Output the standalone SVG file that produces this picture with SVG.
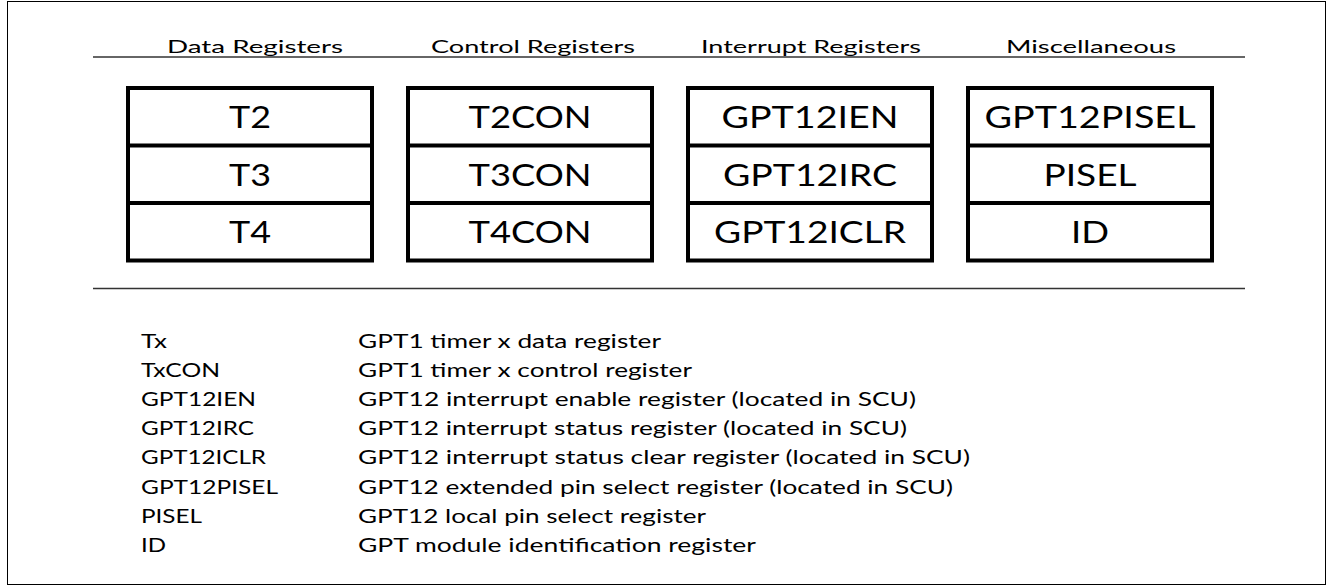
<svg xmlns="http://www.w3.org/2000/svg" width="1332" height="587" viewBox="0 0 1332 587">
<style>
text{font-family:Lato,"Open Sans","Liberation Sans",sans-serif;fill:#000}
.hd{font-size:18px;text-anchor:middle}
.rg{font-size:31px;text-anchor:middle}
.lg{font-size:18.5px}
.box{fill:#fff;stroke:#000;stroke-width:4}
.div{stroke:#000;stroke-width:4}
.rule{stroke:#333;stroke-width:1.5}
</style>
<rect x="7.5" y="1.5" width="1318" height="583" fill="#fff" stroke="#000" stroke-width="1"/>
<g id="rules">
<line class="rule" x1="93" y1="57" x2="1245" y2="57"/>
<line class="rule" x1="93" y1="288.5" x2="1245" y2="288.5"/>
</g>
<g id="headers">
<text class="hd" x="255" y="52.5" textLength="176" lengthAdjust="spacingAndGlyphs">Data Registers</text>
<text class="hd" x="533" y="52.5" textLength="204" lengthAdjust="spacingAndGlyphs">Control Registers</text>
<text class="hd" x="811" y="52.5" textLength="220" lengthAdjust="spacingAndGlyphs">Interrupt Registers</text>
<text class="hd" x="1091" y="52.5" textLength="170" lengthAdjust="spacingAndGlyphs">Miscellaneous</text>
</g>
<g id="data-registers">
<rect class="box" x="128" y="88" width="244" height="172.5"/>
<line class="div" x1="128" y1="145.5" x2="372" y2="145.5"/>
<line class="div" x1="128" y1="203" x2="372" y2="203"/>
<text class="rg" x="250" y="128" textLength="42" lengthAdjust="spacingAndGlyphs">T2</text>
<text class="rg" x="250" y="185.5" textLength="42" lengthAdjust="spacingAndGlyphs">T3</text>
<text class="rg" x="250" y="243" textLength="42" lengthAdjust="spacingAndGlyphs">T4</text>
</g>
<g id="control-registers">
<rect class="box" x="408" y="88" width="244" height="172.5"/>
<line class="div" x1="408" y1="145.5" x2="652" y2="145.5"/>
<line class="div" x1="408" y1="203" x2="652" y2="203"/>
<text class="rg" x="530" y="128" textLength="123" lengthAdjust="spacingAndGlyphs">T2CON</text>
<text class="rg" x="530" y="185.5" textLength="123" lengthAdjust="spacingAndGlyphs">T3CON</text>
<text class="rg" x="530" y="243" textLength="123" lengthAdjust="spacingAndGlyphs">T4CON</text>
</g>
<g id="interrupt-registers">
<rect class="box" x="688" y="88" width="244" height="172.5"/>
<line class="div" x1="688" y1="145.5" x2="932" y2="145.5"/>
<line class="div" x1="688" y1="203" x2="932" y2="203"/>
<text class="rg" x="810" y="128" textLength="177" lengthAdjust="spacingAndGlyphs">GPT12IEN</text>
<text class="rg" x="810" y="185.5" textLength="174" lengthAdjust="spacingAndGlyphs">GPT12IRC</text>
<text class="rg" x="810" y="243" textLength="192" lengthAdjust="spacingAndGlyphs">GPT12ICLR</text>
</g>
<g id="miscellaneous">
<rect class="box" x="968" y="88" width="244" height="172.5"/>
<line class="div" x1="968" y1="145.5" x2="1212" y2="145.5"/>
<line class="div" x1="968" y1="203" x2="1212" y2="203"/>
<text class="rg" x="1090" y="128" textLength="211" lengthAdjust="spacingAndGlyphs">GPT12PISEL</text>
<text class="rg" x="1090" y="185.5" textLength="93" lengthAdjust="spacingAndGlyphs">PISEL</text>
<text class="rg" x="1090" y="243" textLength="38" lengthAdjust="spacingAndGlyphs">ID</text>
</g>
<g id="legend">
<text class="lg" x="141" y="348" textLength="26" lengthAdjust="spacingAndGlyphs">Tx</text>
<text class="lg" x="141" y="377" textLength="79" lengthAdjust="spacingAndGlyphs">TxCON</text>
<text class="lg" x="141" y="406" textLength="115" lengthAdjust="spacingAndGlyphs">GPT12IEN</text>
<text class="lg" x="141" y="435" textLength="113" lengthAdjust="spacingAndGlyphs">GPT12IRC</text>
<text class="lg" x="141" y="464" textLength="125" lengthAdjust="spacingAndGlyphs">GPT12ICLR</text>
<text class="lg" x="141" y="493.5" textLength="137" lengthAdjust="spacingAndGlyphs">GPT12PISEL</text>
<text class="lg" x="141" y="522.5" textLength="61" lengthAdjust="spacingAndGlyphs">PISEL</text>
<text class="lg" x="141" y="551.5" textLength="25" lengthAdjust="spacingAndGlyphs">ID</text>
<text class="lg" x="358" y="348" textLength="303" lengthAdjust="spacingAndGlyphs">GPT1 timer x data register</text>
<text class="lg" x="358" y="377" textLength="334" lengthAdjust="spacingAndGlyphs">GPT1 timer x control register</text>
<text class="lg" x="358" y="406" textLength="558" lengthAdjust="spacingAndGlyphs">GPT12 interrupt enable register (located in SCU)</text>
<text class="lg" x="358" y="435" textLength="549" lengthAdjust="spacingAndGlyphs">GPT12 interrupt status register (located in SCU)</text>
<text class="lg" x="358" y="464" textLength="612" lengthAdjust="spacingAndGlyphs">GPT12 interrupt status clear register (located in SCU)</text>
<text class="lg" x="358" y="493.5" textLength="595" lengthAdjust="spacingAndGlyphs">GPT12 extended pin select register (located in SCU)</text>
<text class="lg" x="358" y="522.5" textLength="348" lengthAdjust="spacingAndGlyphs">GPT12 local pin select register</text>
<text class="lg" x="358" y="551.5" textLength="398" lengthAdjust="spacingAndGlyphs">GPT module identification register</text>
</g>
</svg>
